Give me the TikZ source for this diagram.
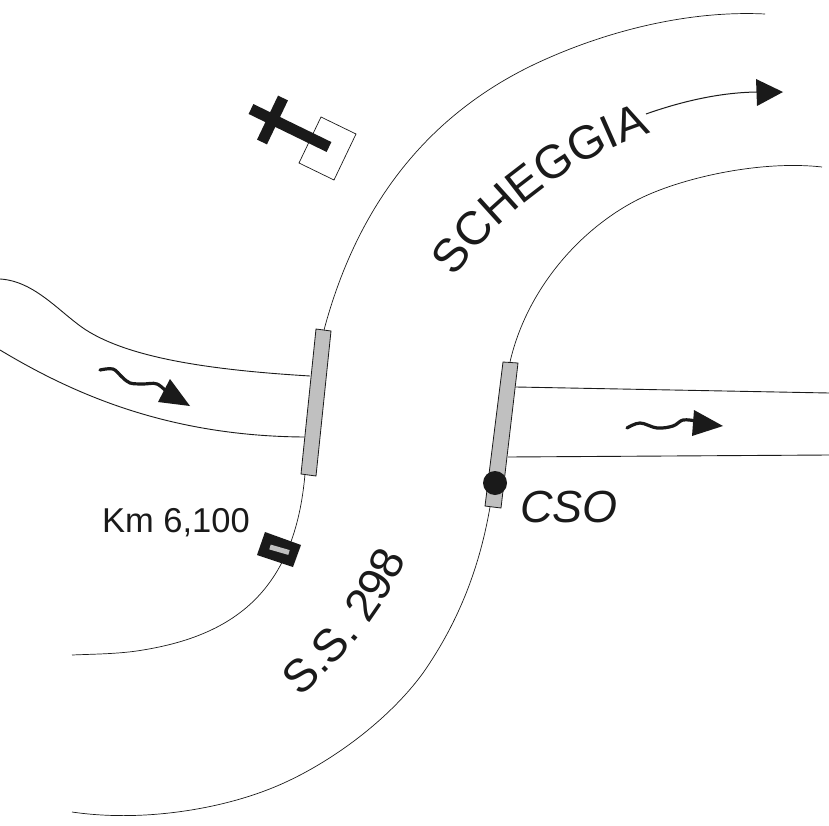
\documentclass[tikz,border=0pt]{standalone}
\usepackage{fontspec}
\usetikzlibrary{decorations.text}
\setmainfont{Liberation Sans}
\definecolor{ink}{HTML}{1A1A1A}
\definecolor{bridgegray}{HTML}{C0C0C0}
\tikzset{
  road/.style={draw=ink,line width=0.7pt},
  creek/.style={draw=ink,line width=0.9pt},
  bridge/.style={draw=ink,fill=bridgegray,line width=0.8pt},
  wavy/.style={draw=ink,line width=3.2pt,line cap=round,line join=round},
  head/.style={fill=ink,draw=none},
  lbl/.style={inner sep=0pt,text=ink}
}
\begin{document}
\begin{tikzpicture}[x=1pt,y=-1pt]
\useasboundingbox[fill=white] (0,0) rectangle (829,826);
% roads
\draw[road] (765,14) .. controls (685,10) and (600,33) .. (533,65) .. controls (423,118) and (356,210) .. (324,330);
\draw[road] (305,474) .. controls (295,590) and (235,635) .. (143,650) .. controls (120,654) and (95,654) .. (72,655);
\draw[road] (822,167) .. controls (760,160) and (680,178) .. (637,200) .. controls (577,231) and (526,292) .. (510,362);
\draw[road] (490,507) .. controls (480,565) and (460,620) .. (423,673) .. controls (385,725) and (320,770) .. (267,790) .. controls (215,810) and (140,822) .. (72,812);
% creeks
\draw[creek] (0,279) .. controls (35,281) and (60,313) .. (86,330) .. controls (130,358) and (210,370) .. (310,376);
\draw[creek] (0,350) .. controls (70,392) and (165,436) .. (304,437);
\draw[creek] (516,387) -- (829,393);
\draw[creek] (508,457) -- (829,455);
% bridges
\draw[bridge] (316,329) -- (331,331) -- (316,476) -- (301,474) -- cycle;
\draw[bridge] (503,362) -- (518,363) -- (501,508) -- (485,506) -- cycle;
\fill[ink] (495,483) circle (12);
% km marker
\fill[ink] (265,532) -- (301,545) -- (293,567) -- (257,555) -- cycle;
\draw[bridgegray,line width=5pt] (270,547) -- (289,552.5);
% church
\draw[road] (321,117) -- (356,134) -- (334,180) -- (299,163) -- cycle;
\draw[ink,line width=11pt] (251,109) -- (329,147);
\draw[ink,line width=11pt] (283,98) -- (262,142);
% flow arrows
\draw[wavy] plot[smooth,tension=0.6] coordinates {(100,370) (113,369) (122,377) (130,383) (143,384) (157,384) (169,394)};
\fill[head] (170,379) -- (190,406) -- (158,402) -- cycle;
\draw[wavy] plot[smooth,tension=0.6] coordinates {(627,428) (640,423) (657,428) (673,426) (683,420) (696,421)};
\fill[head] (694,410) -- (723,426) -- (692,436) -- cycle;
\draw[road,line width=1pt] (646,114) .. controls (680,102) and (720,92) .. (760,92);
\fill[head] (756,79) -- (783,92) -- (757,106) -- cycle;
% labels
\path[decorate,decoration={text along path,text color=ink,text={|\fontsize{47}{47}\selectfont|SCHEGGIA}}]
  (455,278) .. controls (490,225) and (565,160) .. (652,133) -- (720,112);
\path[decorate,decoration={text along path,text color=ink,text={|\fontsize{46}{46}\selectfont|S.S. 298}}]
  (300,697) .. controls (340,660) and (380,620) .. (408,555) -- (430,500);
\node[lbl,font=\fontsize{34.5}{34.5}\selectfont,anchor=center] (km) at (176,523) {Km 6,100};
\node[lbl,font=\itshape\fontsize{45}{45}\selectfont,anchor=center] (cso) at (569,507) {CSO};
\end{tikzpicture}
\end{document}
